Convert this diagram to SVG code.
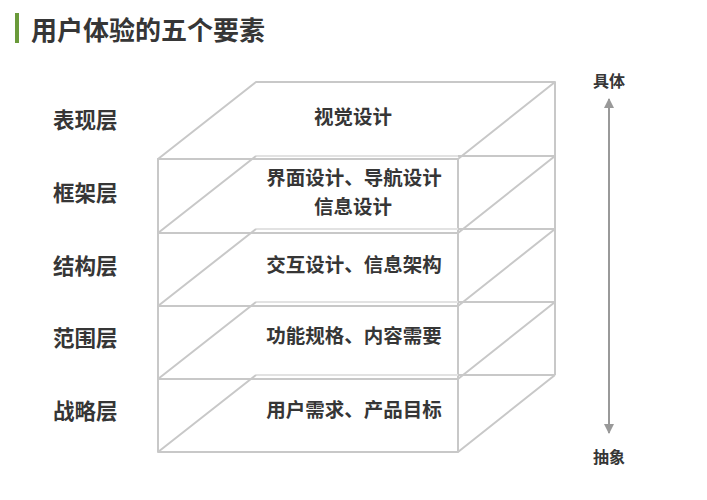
<svg xmlns="http://www.w3.org/2000/svg" width="707" height="500" viewBox="0 0 707 500">
  <style>
    text { font-family: "Noto Sans CJK SC", "Noto Sans", sans-serif; font-weight: 700; fill: #363636; dominant-baseline: central; }
    .title { font-size: 26px; }
    .lbl { font-size: 21.5px; }
    .inner { font-size: 19.5px; text-anchor: middle; }
    .axis { font-size: 16px; text-anchor: middle; }
    .edge { fill: none; stroke: #c8c8c8; stroke-width: 2; stroke-linejoin: round; }
    .hidden { fill: none; stroke: #e2e2e2; stroke-width: 2; }
    .arrow { stroke: #999999; stroke-width: 2; fill: none; }
  </style>
  <defs>
    <marker id="ah" viewBox="0 0 10 10" refX="9" refY="5" markerWidth="5" markerHeight="5" orient="auto-start-reverse" markerUnits="strokeWidth">
      <path d="M0,0 L10,5 L0,10 z" fill="#999999"/>
    </marker>
  </defs>
  <rect x="0" y="0" width="707" height="500" fill="#ffffff"/>

  <g id="title">
    <rect x="15" y="13" width="4" height="30" fill="#6a9a3a"/>
    <text class="title" x="31" y="28">用户体验的五个要素</text>
  </g>

  <g id="layer-surface">
    <path class="edge" d="M158,159 L256,82 L555,82 L458,159 Z"/>
    <text class="lbl" x="53" y="118">表现层</text>
    <text class="inner" x="353" y="115">视觉设计</text>
  </g>

  <g id="layer-skeleton">
    <path class="hidden" d="M256,156 L458,156"/>
    <path class="edge" d="M158,159 L458,159 L458,233 L158,233 Z"/>
    <path class="edge" d="M158,233 L256,156 M458,233 L555,156 M458,156 L555,156"/>
    <text class="lbl" x="53" y="191">框架层</text>
    <text class="inner" x="354" y="176">界面设计、导航设计</text>
    <text class="inner" x="353" y="205">信息设计</text>
  </g>

  <g id="layer-structure">
    <path class="hidden" d="M256,229 L458,229"/>
    <path class="edge" d="M158,233 L458,233 L458,306 L158,306 Z"/>
    <path class="edge" d="M158,306 L256,229 M458,306 L555,229 M458,229 L555,229"/>
    <text class="lbl" x="53" y="264">结构层</text>
    <text class="inner" x="354" y="263">交互设计、信息架构</text>
  </g>

  <g id="layer-scope">
    <path class="hidden" d="M256,302 L458,302"/>
    <path class="edge" d="M158,306 L458,306 L458,379 L158,379 Z"/>
    <path class="edge" d="M158,379 L256,302 M458,379 L555,302 M458,302 L555,302"/>
    <text class="lbl" x="53" y="336">范围层</text>
    <text class="inner" x="354" y="334">功能规格、内容需要</text>
  </g>

  <g id="layer-strategy">
    <path class="hidden" d="M256,375 L458,375"/>
    <path class="edge" d="M158,379 L458,379 L458,452 L158,452 Z"/>
    <path class="edge" d="M158,452 L256,375 M458,452 L555,375 M458,375 L555,375"/>
    <text class="lbl" x="53" y="409">战略层</text>
    <text class="inner" x="354" y="408">用户需求、产品目标</text>
  </g>

  <g id="back-edge">
    <path class="edge" d="M555,82 L555,375"/>
  </g>

  <g id="axis-labels">
    <text class="axis" x="609" y="80">具体</text>
    <text class="axis" x="609" y="456">抽象</text>
  </g>

  <g id="connectors">
    <line class="arrow" x1="609" y1="99" x2="609" y2="433" marker-start="url(#ah)" marker-end="url(#ah)"/>
  </g>
</svg>
